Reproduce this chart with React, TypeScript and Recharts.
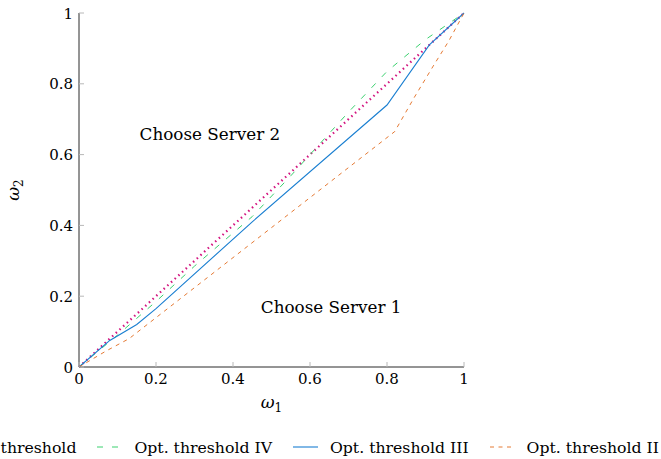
import React from "react"
import { LineChart, Line, XAxis, YAxis, Legend, ReferenceDot, Label } from "recharts"

// series points (omega_1 -> omega_2)
const xV = [0, 0.2, 0.4, 0.6, 0.8, 1]
const yV = [0, 0.2, 0.4, 0.6, 0.8, 1]

const xIV = [0, 0.1, 0.2, 0.3, 0.45, 0.55, 0.6, 0.7, 0.8, 0.9, 1]
const yIV = [0, 0.09, 0.185, 0.285, 0.425, 0.54, 0.6, 0.72, 0.835, 0.925, 1]

const xIII = [0, 0.08, 0.15, 0.2, 0.45, 0.8, 0.91, 1]
const yIII = [0, 0.075, 0.12, 0.165, 0.41, 0.74, 0.91, 1]

const xII = [0, 0.07, 0.13, 0.82, 0.87, 0.92, 0.96, 1]
const yII = [0, 0.045, 0.08, 0.665, 0.76, 0.85, 0.92, 1]

const axisTicks = [0, 0.2, 0.4, 0.6, 0.8, 1]

const FONT = "DejaVu Serif"
const TICK_COLOR = "#b8b8b8"
const FRAME = "#2a2a2a"

const toPoints = (xs: number[], ys: number[]) => xs.map((x, i) => ({ x, y: ys[i] }))

const series = [
  { name: "Opt. threshold", data: toPoints(xV, yV), color: "#d3137f", dash: "1.5 3.5", width: 2.2 },
  { name: "Opt. threshold IV", data: toPoints(xIV, yIV), color: "#3bd16f", dash: "6 9", width: 1 },
  { name: "Opt. threshold III", data: toPoints(xIII, yIII), color: "#1a7fd1", dash: undefined, width: 1.1 },
  { name: "Opt. threshold II", data: toPoints(xII, yII), color: "#e57a34", dash: "4 4.5", width: 1 },
]

const fmt = (v: number) => (v === 0 || v === 1 ? String(v) : v.toFixed(1))

const BottomTick = (props: any) => {
  const { x, y, payload } = props
  return (
    <g>
      <line x1={x} y1={y} x2={x} y2={y - 5} stroke={TICK_COLOR} />
      <text x={x} y={y + 17} textAnchor="middle" fontFamily={FONT} fontSize={15} fill="#000">
        {fmt(payload.value)}
      </text>
    </g>
  )
}

const LeftTick = (props: any) => {
  const { x, y, payload } = props
  return (
    <g>
      <line x1={x} y1={y} x2={x + 5} y2={y} stroke={TICK_COLOR} />
      <text x={x - 6} y={y + 5.5} textAnchor="end" fontFamily={FONT} fontSize={15} fill="#000">
        {fmt(payload.value)}
      </text>
    </g>
  )
}

const TopTick = (props: any) => {
  const { x, y } = props
  return <line x1={x} y1={y} x2={x} y2={y + 5} stroke={TICK_COLOR} />
}

const RightTick = (props: any) => {
  const { x, y } = props
  return <line x1={x} y1={y} x2={x - 5} y2={y} stroke={TICK_COLOR} />
}

const LegendBox = () => (
  <div
    style={{
      width: 661,
      height: 20,
      display: "flex",
      justifyContent: "flex-end",
      alignItems: "center",
      whiteSpace: "nowrap",
      overflow: "hidden",
      fontFamily: FONT,
      fontSize: 15.7,
      paddingRight: 2,
      boxSizing: "border-box",
    }}
  >
    {series.map((s) => (
      <div key={s.name} style={{ display: "flex", alignItems: "center", marginLeft: 21, flexShrink: 0 }}>
        <svg width={25} height={10} style={{ marginRight: 12 }}>
          <line x1={0} y1={5} x2={25} y2={5} stroke={s.color} strokeWidth={s.width} strokeDasharray={s.dash} />
        </svg>
        <span>{s.name}</span>
      </div>
    ))}
  </div>
)

export default function App() {
  return (
    <div style={{ position: "absolute", left: 0, top: 0, width: 661, height: 459, background: "#fff" }}>
      <LineChart width={661} height={459} margin={{ top: 13, right: 197, bottom: 2, left: 0 }}>
        <XAxis
          xAxisId={0}
          dataKey="x"
          type="number"
          domain={[0, 1]}
          ticks={axisTicks}
          tickLine={false}
          tickSize={0}
          tickMargin={0}
          height={70}
          axisLine={{ stroke: FRAME }}
          tick={<BottomTick />}
        >
          <Label
            content={(p: any) => {
              const vb = p.viewBox
              return (
                <text x={vb.x + vb.width / 2} y={vb.y + 41} textAnchor="middle" fontFamily={FONT} fontSize={17}>
                  <tspan fontStyle="italic">ω</tspan>
                  <tspan dy={4} fontSize={12}>1</tspan>
                </text>
              )
            }}
          />
        </XAxis>
        <XAxis
          xAxisId="top"
          orientation="top"
          type="number"
          domain={[0, 1]}
          ticks={axisTicks}
          tickLine={false}
          tickSize={0}
          tickMargin={0}
          height={0}
          axisLine={{ stroke: FRAME }}
          tick={<TopTick />}
        />
        <YAxis
          yAxisId={0}
          type="number"
          domain={[0, 1]}
          ticks={axisTicks}
          tickLine={false}
          tickSize={0}
          tickMargin={0}
          width={79}
          axisLine={{ stroke: FRAME }}
          tick={<LeftTick />}
        >
          <Label
            content={(p: any) => {
              const vb = p.viewBox
              const cx = 19
              const cy = vb.y + vb.height / 2
              return (
                <text x={cx} y={cy} textAnchor="middle" fontFamily={FONT} fontSize={17} transform={`rotate(-90 ${cx} ${cy})`}>
                  <tspan fontStyle="italic">ω</tspan>
                  <tspan dy={4} fontSize={12}>2</tspan>
                </text>
              )
            }}
          />
        </YAxis>
        <YAxis
          yAxisId="right"
          orientation="right"
          type="number"
          domain={[0, 1]}
          ticks={axisTicks}
          tickLine={false}
          tickSize={0}
          tickMargin={0}
          width={0}
          axisLine={{ stroke: FRAME }}
          tick={<RightTick />}
        />
        <Legend
          verticalAlign="bottom"
          content={() => <LegendBox />}
          wrapperStyle={{ left: 0, width: 661, bottom: 2 }}
        />
        {series.map((s) => (
          <Line
            key={s.name}
            data={s.data}
            dataKey="y"
            name={s.name}
            type="linear"
            stroke={s.color}
            strokeWidth={s.width}
            strokeDasharray={s.dash}
            dot={false}
            activeDot={false}
            isAnimationActive={false}
          />
        ))}
        <ReferenceDot
          x={0.34}
          y={0.658}
          r={0}
          fill="none"
          stroke="none"
          label={{ value: "Choose Server 2", position: "center", fill: "#000", fontSize: 16.8, fontFamily: FONT }}
        />
        <ReferenceDot
          x={0.655}
          y={0.17}
          r={0}
          fill="none"
          stroke="none"
          label={{ value: "Choose Server 1", position: "center", fill: "#000", fontSize: 16.8, fontFamily: FONT }}
        />
      </LineChart>
    </div>
  )
}
